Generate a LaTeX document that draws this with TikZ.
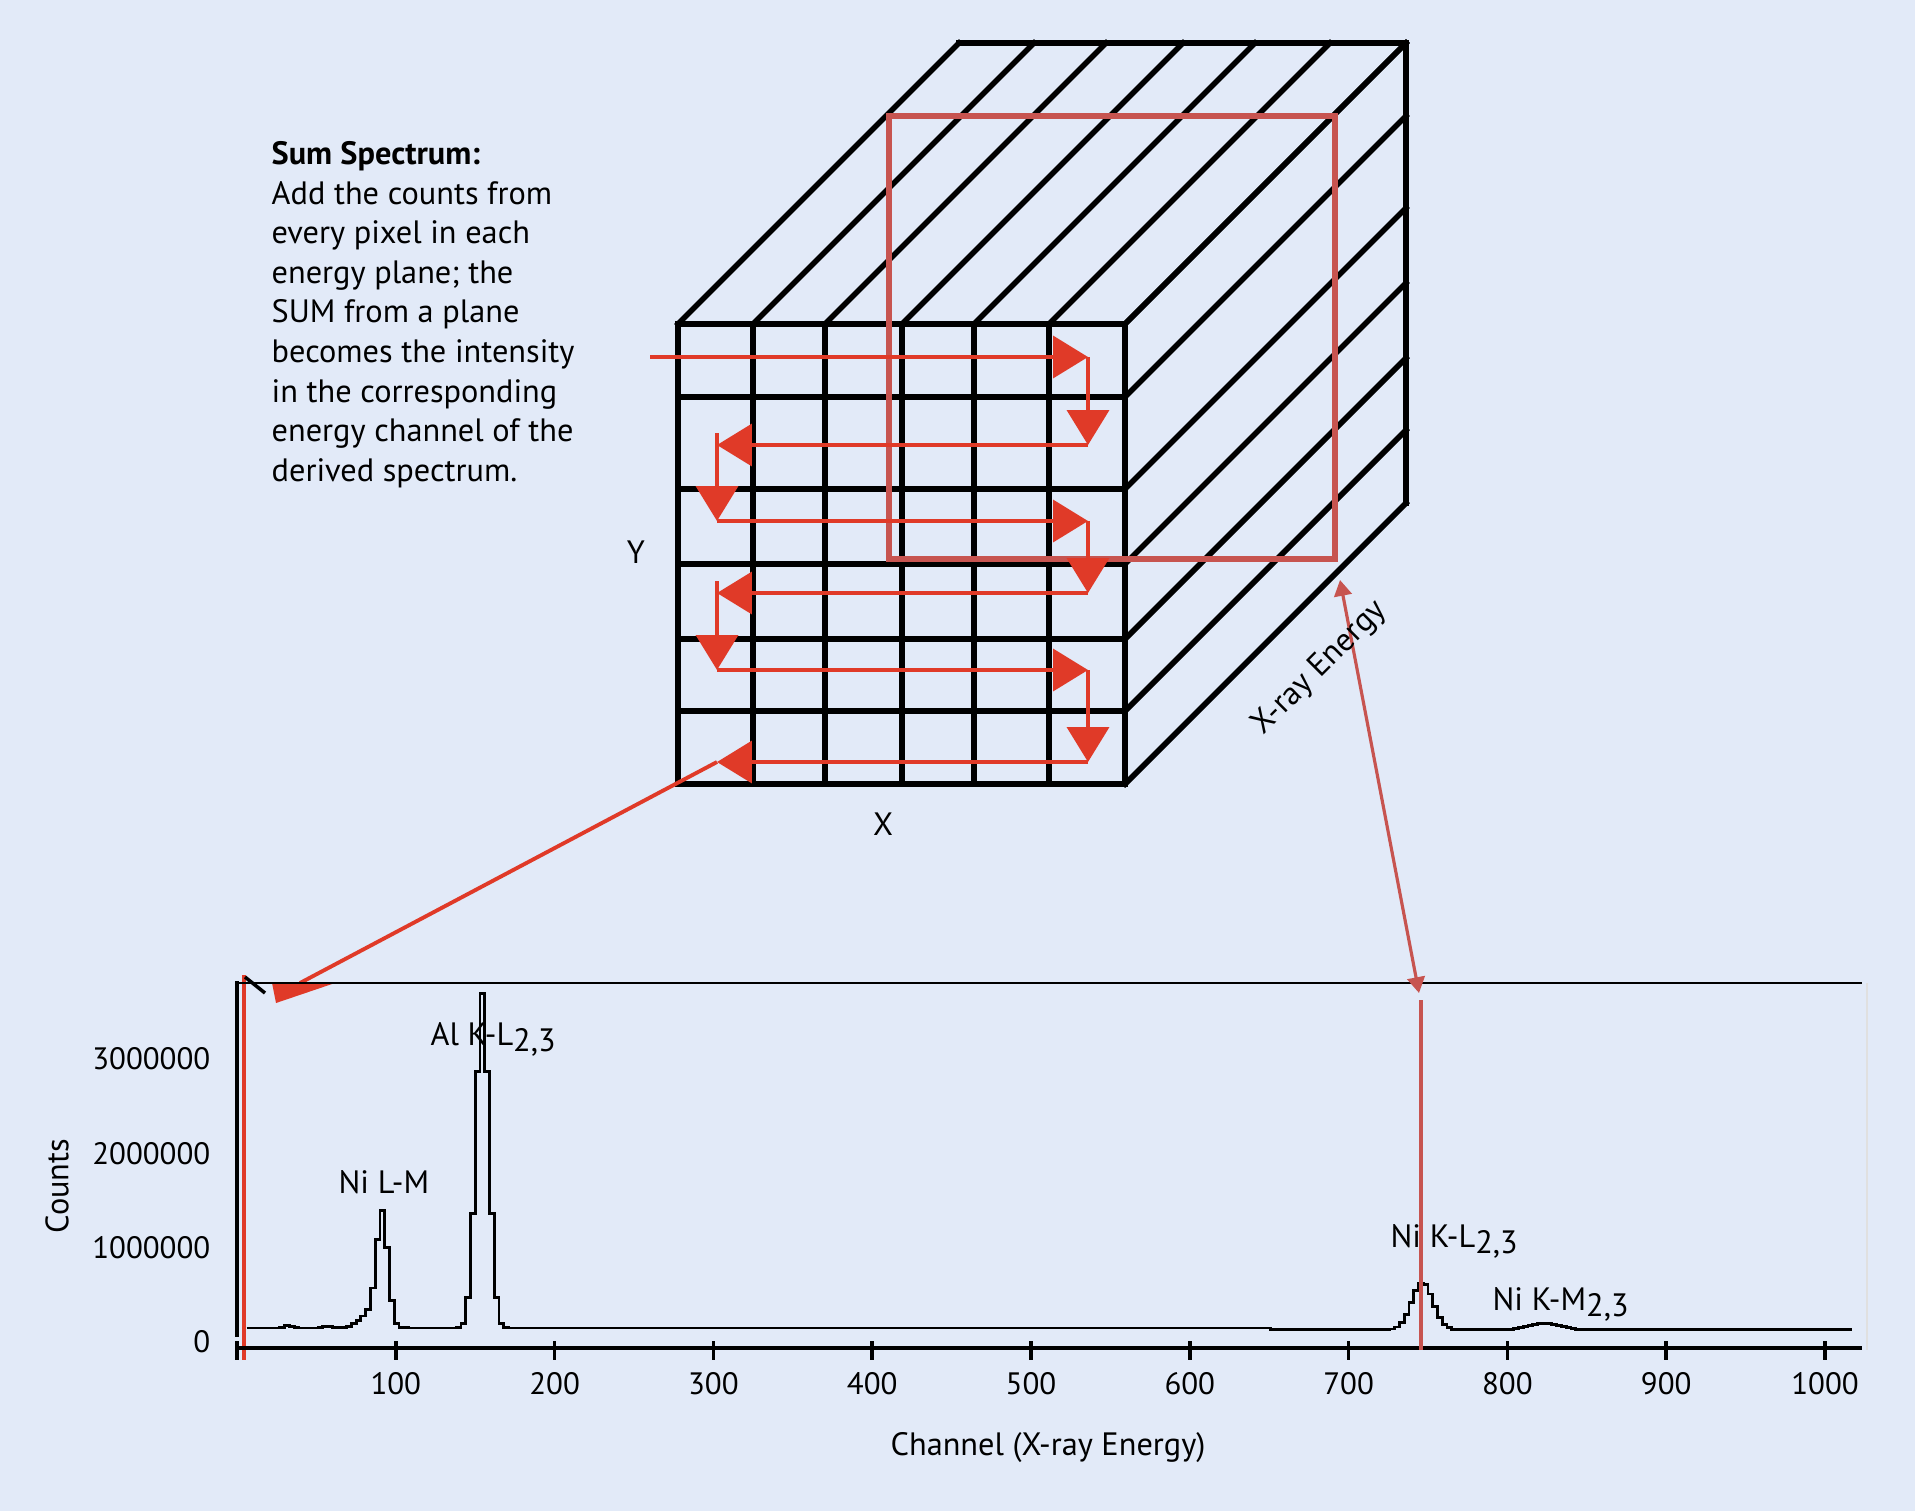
\documentclass[tikz,border=0pt]{standalone}
\usepackage{fontspec}
\setmainfont{PT Sans}
\usepackage{tikz}
\usetikzlibrary{arrows.meta,calc}
\definecolor{panelbg}{HTML}{E2EAF8}
\definecolor{scanred}{HTML}{E03A28}
\definecolor{planered}{HTML}{C75450}
\newcommand{\shellsub}[1]{\raisebox{-1.9pt}{#1}}

\begin{document}
\begin{tikzpicture}[
    x=0.1mm, y=-0.1mm,
    grid/.style={line width=1.6pt,line cap=rect},
    plane/.style={line width=1.5pt,planered},
    scan/.style={-{Triangle[length=9.9pt,width=11.9pt]},line width=1pt,scanred},
    stub/.style={shorten <=-3.4pt},
    feed/.style={line width=1.1pt,scanred},
    link/.style={{Triangle[length=4.5pt,width=5pt]}-{Triangle[length=4.5pt,width=5pt]},line width=0.9pt,planered},
    lbl/.style={font=\fontsize{9.2}{10}\selectfont,inner sep=0pt},
    ticklbl/.style={font=\fontsize{8.8}{10}\selectfont,inner sep=0pt},
    note/.style={font=\fontsize{9.2}{11.25}\selectfont,align=left,inner sep=0pt},
    specline/.style={line width=0.8pt,line join=miter},
    declare function={
      pk(\c,\m,\w)=exp(-1*pow(min(abs(\c-\m)/\w,6),2));
      spec(\c)=0.16-0.02*(\c>650)+0.025*pk(\c,31,3)+0.02*pk(\c,56,3)
        +1.18*pk(\c,90,5)+0.15*pk(\c,82,9)+3.55*pk(\c,153,5.8)
        +0.5*pk(\c,745,9.5)+0.07*pk(\c,822,14);
    }
]
\fill[panelbg] (0,0) rectangle (1915,1511);
\useasboundingbox (0,0) rectangle (1915,1511);

% data cube
\foreach \x in {678,753,825,902,974,1049,1125}{
  \draw[grid] (\x,324) -- (\x,784);
  \draw[grid] (\x,324) -- ++(281,-281);
}
\foreach \y in {324,397,489,564,639,711,784}{
  \draw[grid] (678,\y) -- (1125,\y);
  \draw[grid] (1125,\y) -- ++(281,-281);
}
\draw[grid] (959,43) -- (1406,43) -- (1406,503);

% energy plane
\draw[plane] (889,116) rectangle (1335,559);

% raster over the pixels
\foreach \i/\y in {1/357,2/445,3/521,4/593,5/670,6/762}{
  \coordinate (L\i) at (717,\y);
  \coordinate (R\i) at (1088,\y);
}
\coordinate (scanin) at (650,357);
\draw[scan] (scanin) -- (R1);
\draw[scan] (R1) -- (R2);
\draw[scan] (R2) -- (L2);
\draw[scan,stub] (L2) -- (L3);
\draw[scan] (L3) -- (R3);
\draw[scan] (R3) -- (R4);
\draw[scan] (R4) -- (L4);
\draw[scan,stub] (L4) -- (L5);
\draw[scan] (L5) -- (R5);
\draw[scan] (R5) -- (R6);
\draw[scan] (R6) -- (L6);

% sum goes to the spectrum
\coordinate (sumend) at (300,983);
\draw[feed] (L6) -- (sumend);
\fill[scanred] (272,983) -- (335,983) -- (276,1003) -- cycle;
\draw[line width=1.1pt,scanred] (244,975) -- (244,1360);

% spectrum axes
\draw[line width=0.6pt] (237,983) -- (1862,983);
\draw[black!12,line width=0.6pt] (1867,983) -- (1867,1350);
\draw[line width=1.2pt] (237,981) -- (237,1337);
\draw[line width=0.9pt] (237,1348) -- (1862,1348);
\draw[line width=1pt] (245,977) -- (265,993);
\foreach \c in {0,100,...,1000}
  \draw[line width=1pt] ({237+1.588*\c},1341) -- ++(0,19);
\foreach \c in {100,200,...,1000}
  \node[ticklbl] (tick\c) at ({237+1.588*\c},1384) {\c};
\foreach \k/\t in {0/0,1/1000000,2/2000000,3/3000000}
  \node[ticklbl,anchor=east] (ytick\k) at (211,{1342-94.3*\k}) {\t};
\node[lbl,rotate=90] (counts) at (57,1186) {Counts};
\node[lbl] (chan) at (1048,1448) {Channel (X-ray Energy)};

% spectrum
\draw[specline] plot[domain=6:1017,samples=338,const plot]
  ({237+1.588*\x},{1343-94.3*spec(\x)});

% peak labels
\node[lbl,anchor=base west] (nilm) at (338,1193) {Ni L-M};
\node[lbl,anchor=base west] (alkl) at (430,1045) {Al K-L\shellsub{2,3}};
\node[lbl,anchor=base west] (nikl) at (1390,1247) {Ni K-L\shellsub{2,3}};
\node[lbl,anchor=base west] (nikm) at (1492,1310) {Ni K-M\shellsub{2,3}};

% plane to channel
\draw[line width=1.2pt,planered] (1421,1000) -- (1421,1350);
\coordinate (planecorner) at (1340,580);
\coordinate (klmark) at (1419,993);
\draw[link] (planecorner) -- (klmark);

% cube labels
\node[lbl] (ylab) at (636,552) {Y};
\node[lbl] (xlab) at (883,824) {X};
\node[lbl,rotate=45] (elab) at (1320,668) {X-ray Energy};

\node[note,anchor=north west] (sumnote) at (271,141) {\textbf{Sum Spectrum:}\\
Add the counts from\\
every pixel in each\\
energy plane; the\\
SUM from a plane\\
becomes the intensity\\
in the corresponding\\
energy channel of the\\
derived spectrum.};
\end{tikzpicture}
\end{document}
